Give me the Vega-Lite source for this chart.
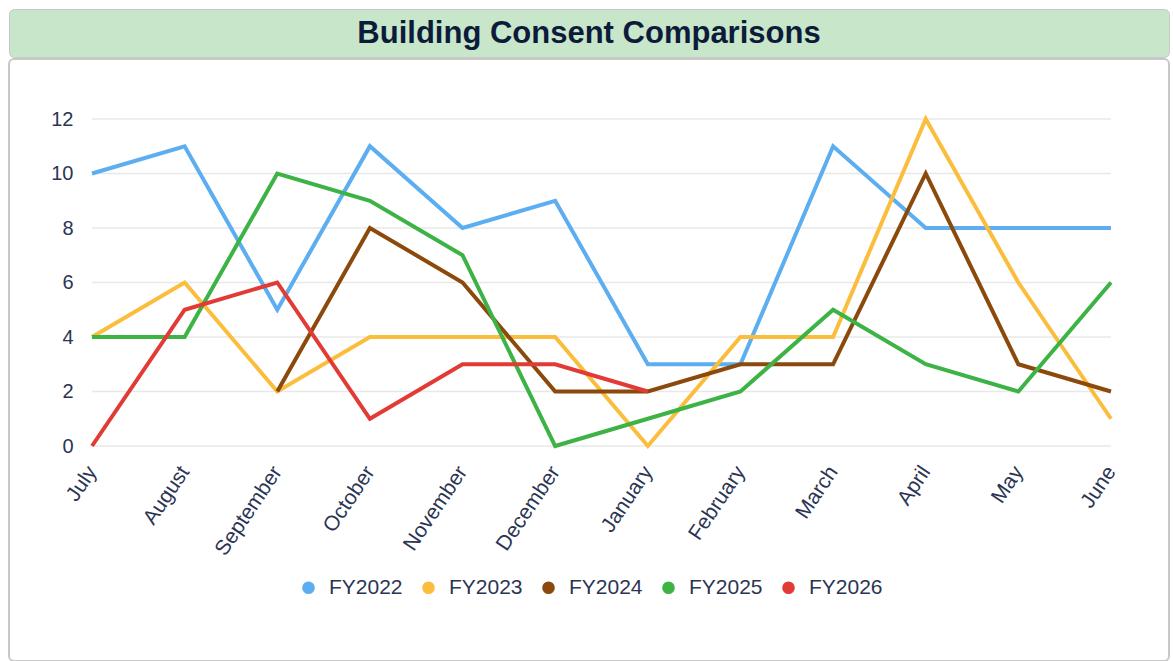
{
  "$schema": "https://vega.github.io/schema/vega-lite/v6.json",
  "background": "white",
  "padding": {"left": 8, "top": 8, "right": 0, "bottom": 0},
  "config": {
    "font": "Liberation Sans",
    "view": {"stroke": null}
  },
  "spacing": 0,
  "vconcat": [
    {
      "width": 1160,
      "height": 48,
      "view": {"fill": "#c8e6c9", "stroke": "#c8c8c8", "cornerRadius": 5},
      "data": {"values": [{"title": "Building Consent Comparisons"}]},
      "mark": {"type": "text", "fontSize": 31, "fontWeight": "bold", "color": "#0d1b3a", "baseline": "middle", "align": "center", "dy": 1},
      "encoding": {"text": {"field": "title"}}
    },
    {
      "width": 1160,
      "height": 602,
      "view": {"stroke": "#c8c8c8", "strokeWidth": 2, "cornerRadius": 5},
      "layer": [
        {
          "data": {"values": [{"v": 0}, {"v": 2}, {"v": 4}, {"v": 6}, {"v": 8}, {"v": 10}, {"v": 12}]},
          "mark": {"type": "rule", "color": "#e8e8e8", "strokeWidth": 1.5},
          "encoding": {
            "y": {"field": "v", "type": "quantitative"},
            "x": {"datum": "July", "type": "ordinal"},
            "x2": {"datum": "June"}
          }
        },
        {
          "data": {"values": [
            {"month": "July", "series": "FY2022", "value": 10},
            {"month": "August", "series": "FY2022", "value": 11},
            {"month": "September", "series": "FY2022", "value": 5},
            {"month": "October", "series": "FY2022", "value": 11},
            {"month": "November", "series": "FY2022", "value": 8},
            {"month": "December", "series": "FY2022", "value": 9},
            {"month": "January", "series": "FY2022", "value": 3},
            {"month": "February", "series": "FY2022", "value": 3},
            {"month": "March", "series": "FY2022", "value": 11},
            {"month": "April", "series": "FY2022", "value": 8},
            {"month": "May", "series": "FY2022", "value": 8},
            {"month": "June", "series": "FY2022", "value": 8},
            {"month": "July", "series": "FY2023", "value": 4},
            {"month": "August", "series": "FY2023", "value": 6},
            {"month": "September", "series": "FY2023", "value": 2},
            {"month": "October", "series": "FY2023", "value": 4},
            {"month": "November", "series": "FY2023", "value": 4},
            {"month": "December", "series": "FY2023", "value": 4},
            {"month": "January", "series": "FY2023", "value": 0},
            {"month": "February", "series": "FY2023", "value": 4},
            {"month": "March", "series": "FY2023", "value": 4},
            {"month": "April", "series": "FY2023", "value": 12},
            {"month": "May", "series": "FY2023", "value": 6},
            {"month": "June", "series": "FY2023", "value": 1},
            {"month": "September", "series": "FY2024", "value": 2},
            {"month": "October", "series": "FY2024", "value": 8},
            {"month": "November", "series": "FY2024", "value": 6},
            {"month": "December", "series": "FY2024", "value": 2},
            {"month": "January", "series": "FY2024", "value": 2},
            {"month": "February", "series": "FY2024", "value": 3},
            {"month": "March", "series": "FY2024", "value": 3},
            {"month": "April", "series": "FY2024", "value": 10},
            {"month": "May", "series": "FY2024", "value": 3},
            {"month": "June", "series": "FY2024", "value": 2},
            {"month": "July", "series": "FY2025", "value": 4},
            {"month": "August", "series": "FY2025", "value": 4},
            {"month": "September", "series": "FY2025", "value": 10},
            {"month": "October", "series": "FY2025", "value": 9},
            {"month": "November", "series": "FY2025", "value": 7},
            {"month": "December", "series": "FY2025", "value": 0},
            {"month": "January", "series": "FY2025", "value": 1},
            {"month": "February", "series": "FY2025", "value": 2},
            {"month": "March", "series": "FY2025", "value": 5},
            {"month": "April", "series": "FY2025", "value": 3},
            {"month": "May", "series": "FY2025", "value": 2},
            {"month": "June", "series": "FY2025", "value": 6},
            {"month": "July", "series": "FY2026", "value": 0},
            {"month": "August", "series": "FY2026", "value": 5},
            {"month": "September", "series": "FY2026", "value": 6},
            {"month": "October", "series": "FY2026", "value": 1},
            {"month": "November", "series": "FY2026", "value": 3},
            {"month": "December", "series": "FY2026", "value": 3},
            {"month": "January", "series": "FY2026", "value": 2}
          ]},
          "mark": {"type": "line", "strokeWidth": 4, "strokeJoin": "miter"},
          "encoding": {
            "x": {
              "field": "month",
              "type": "ordinal",
              "sort": ["July", "August", "September", "October", "November", "December", "January", "February", "March", "April", "May", "June"],
              "scale": {"type": "point", "padding": 0, "range": [83, 1102]},
              "axis": {"title": null, "labelAngle": -56, "labelFontSize": 21, "labelColor": "#2b3553", "domain": false, "ticks": false, "labelPadding": 22, "grid": false, "offset": -215}
            },
            "y": {
              "field": "value",
              "type": "quantitative",
              "scale": {"domain": [0, 12], "nice": false, "range": [387, 60]},
              "axis": {"title": null, "values": [0, 2, 4, 6, 8, 10, 12], "labelFontSize": 20, "labelColor": "#2b3553", "domain": false, "ticks": false, "labelPadding": 19, "grid": false, "offset": -83}
            },
            "color": {
              "field": "series",
              "type": "nominal",
              "scale": {
                "domain": ["FY2022", "FY2023", "FY2024", "FY2025", "FY2026"],
                "range": ["#5caef0", "#fbbd3c", "#8b4a0c", "#3db346", "#e23b35"]
              },
              "legend": {
                "title": null,
                "orient": "none",
                "legendX": 289,
                "legendY": 568,
                "direction": "horizontal",
                "symbolType": "circle",
                "symbolSize": 160,
                "labelFontSize": 21,
                "labelColor": "#2b3553",
                "labelOffset": 10,
                "columnPadding": 15,
                "encode": {"symbols": {"update": {"fill": {"scale": "color", "field": "value"}, "strokeWidth": {"value": 0}}}}
              }
            }
          }
        }
      ]
    }
  ]
}
